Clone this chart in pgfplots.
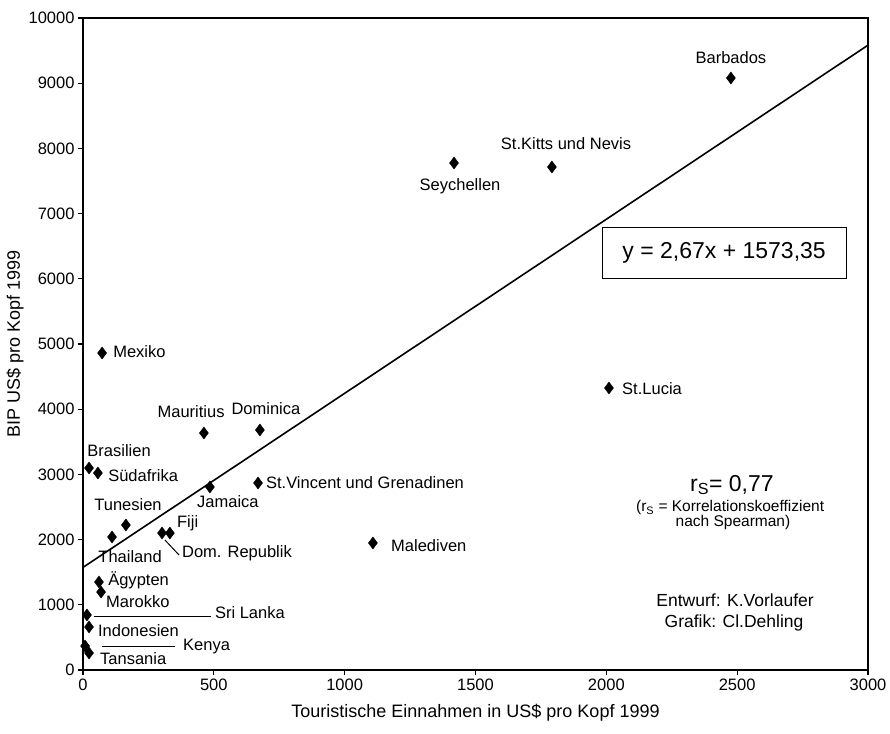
\documentclass[border=0pt]{standalone}
\usepackage{pgfplots}
\pgfplotsset{compat=1.18}
\usepackage{fontspec}
\setmainfont{Liberation Sans}
\newcommand{\lf}{\fontsize{16.5}{18}\selectfont}
\begin{document}
\begin{tikzpicture}[x=1pt,y=1pt]
\useasboundingbox (-83,-63) rectangle (807,670);
\begin{axis}[
  at={(0,0)}, anchor=south west,
  scale only axis, width=785pt, height=652pt,
  xmin=0, xmax=3000, ymin=0, ymax=10000,
  xtick={0,500,...,3000}, ytick={0,1000,...,10000},
  xtick pos=bottom, ytick pos=left,
  scaled ticks=false,
  tick align=outside, major tick length=5pt,
  axis line style={line width=1.3pt},
  every tick/.style={line width=1.1pt, black},
  /pgf/number format/assume math mode=true,
  /pgf/number format/set thousands separator={},
  tick label style={font=\lf},
  xlabel={Touristische Einnahmen in US\$ pro Kopf 1999},
  ylabel={BIP US\$ pro Kopf 1999},
  label style={font=\fontsize{18}{20}\selectfont},
  xlabel style={at={(axis description cs:0.5,0)}, anchor=center, yshift=-43pt},
  ylabel style={at={(axis description cs:0,0.5)}, anchor=center, yshift=68pt},
  clip=false,
]
\addplot[black, line width=1.6pt] coordinates {(0,1573.35) (3000,9583.35)};
\addplot[only marks, mark=diamond*, mark size=6pt, black] coordinates {
(2476,9080) (1418,7776) (1792,7715) (2010,4325) (73,4862) (462,3635) (676,3681)
(23,3098) (57,3021) (485,2807) (669,2868) (164,2224) (111,2040) (302,2101) (332,2101)
(1108,1948) (61,1350) (69,1196) (15,844) (23,660) (8,368) (23,261)
};
\begin{scope}[every node/.style={font=\lf, inner sep=0pt}]
\node[anchor=center] at (axis cs:2476,9386) {Barbados};
\node[anchor=center] at (axis cs:1441,7423) {Seychellen};
\node[anchor=center] at (axis cs:1846,8067) {St.Kitts und Nevis};
\node[anchor=west] at (axis cs:2060,4310) {St.Lucia};
\node[anchor=west] at (axis cs:115,4877) {Mexiko};
\node[anchor=center] at (axis cs:413,3957) {Mauritius};
\node[anchor=center] at (axis cs:699,4003) {Dominica};
\node[anchor=center] at (axis cs:138,3359) {Brasilien};
\node[anchor=west] at (axis cs:96,2975) {Südafrika};
\node[anchor=center] at (axis cs:172,2531) {Tunesien};
\node[anchor=center] at (axis cs:554,2577) {Jamaica};
\node[anchor=west] at (axis cs:359,2255) {Fiji};
\node[anchor=center] at (axis cs:180,1733) {Thailand};
\node[anchor=west] at (axis cs:378,1794) {Dom. Republik};
\node[anchor=west] at (axis cs:699,2868) {St.Vincent und Grenadinen};
\node[anchor=west] at (axis cs:1177,1902) {Malediven};
\node[anchor=west] at (axis cs:96,1380) {Ägypten};
\node[anchor=west] at (axis cs:88,1043) {Marokko};
\node[anchor=west] at (axis cs:504,874) {Sri Lanka};
\node[anchor=west] at (axis cs:57,598) {Indonesien};
\node[anchor=west] at (axis cs:382,353) {Kenya};
\node[anchor=west] at (axis cs:65,169) {Tansania};
\end{scope}
\draw[line width=1pt] (axis cs:42,813) -- (axis cs:489,813);
\draw[line width=1pt] (axis cs:73,353) -- (axis cs:352,353);
\draw[line width=1pt] (axis cs:313,1994) -- (axis cs:367,1764);
\node[draw, line width=0.8pt, minimum width=244pt, minimum height=51pt, inner sep=0pt, font=\fontsize{23}{25}\selectfont, fill=white] at (axis cs:2450,6395) {y = 2,67x + 1573,35};
\node[font=\fontsize{23}{25}\selectfont, inner sep=0pt] at (axis cs:2480,2837) {r\textsubscript{S}= 0,77};
\node[font=\fontsize{15.5}{17}\selectfont, inner sep=0pt] at (axis cs:2473,2485) {(r\textsubscript{S} = Korrelationskoeffizient};
\node[font=\fontsize{15.5}{17}\selectfont, inner sep=0pt] at (axis cs:2484,2255) {nach Spearman)};
\node[font=\fontsize{17.5}{19}\selectfont, inner sep=0pt] at (axis cs:2492,1074) {Entwurf: K.Vorlaufer};
\node[font=\fontsize{17.5}{19}\selectfont, inner sep=0pt] at (axis cs:2488,721) {Grafik: Cl.Dehling};
\end{axis}
\end{tikzpicture}
\end{document}
